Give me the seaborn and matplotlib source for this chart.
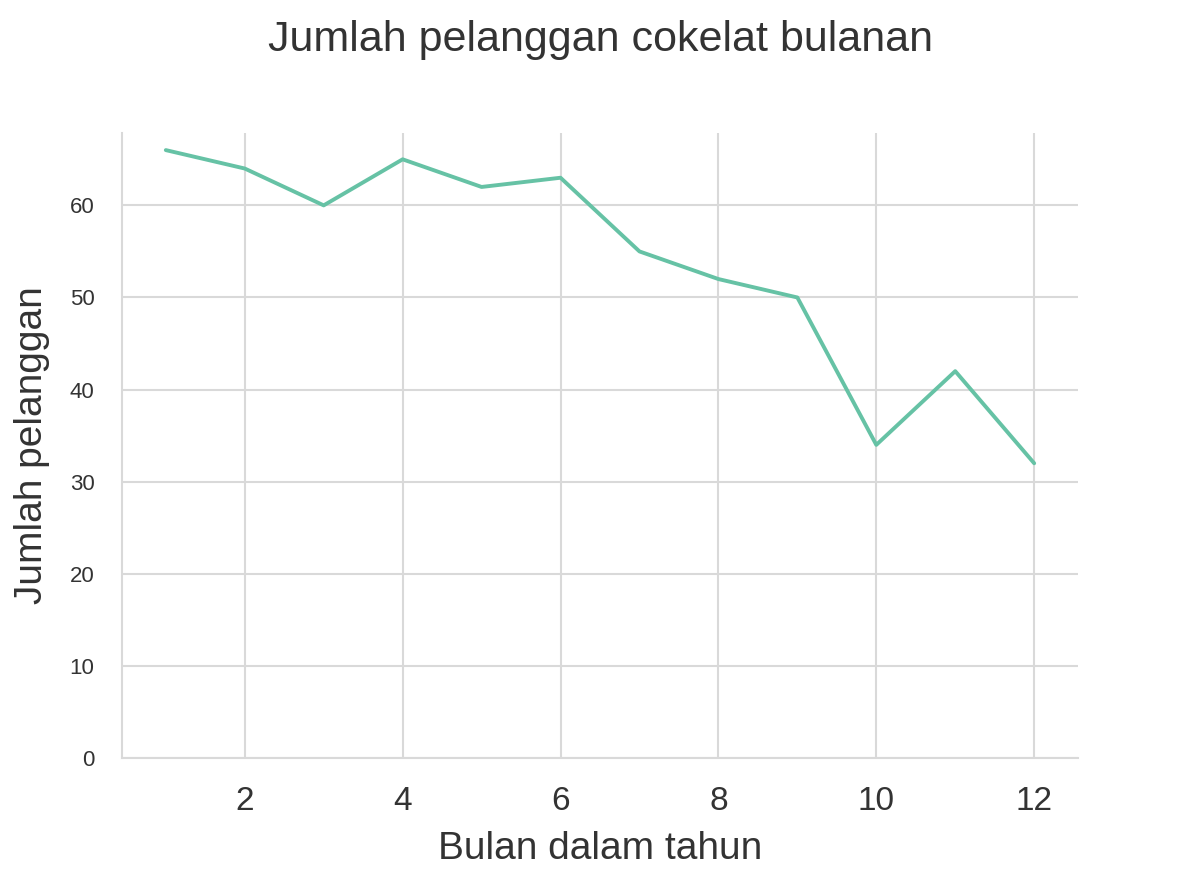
import matplotlib
matplotlib.use("Agg")
import matplotlib.pyplot as plt
import seaborn as sns
import pandas as pd

bulan = [1, 2, 3, 4, 5, 6, 7, 8, 9, 10, 11, 12]
pelanggan = [66, 64, 60, 65, 62, 63, 55, 52, 50, 34, 42, 32]

sns.set_theme(style="whitegrid")
plt.rcParams['font.family'] = ['Liberation Sans', 'DejaVu Sans']
df = pd.DataFrame({"bulan": bulan, "pelanggan": pelanggan})

fig = plt.figure(figsize=(12, 8.96), dpi=100)
ax = fig.add_axes([0.102, 0.154, 0.796, 0.698])
sns.lineplot(data=df, x="bulan", y="pelanggan", color="#66c2a5", linewidth=2.8, ax=ax)
ax.set_ylim(0, 67.9)
ax.set_xlim(0.45, 12.55)
ax.set_xticks([2, 4, 6, 8, 10, 12])
ax.tick_params(axis='x', labelsize=24, colors='#333333', pad=14)
ax.tick_params(axis='y', labelsize=16, colors='#333333', pad=14)
ax.grid(True, color='#d9d9d9', linewidth=1.5)
sns.despine(ax=ax)
for s in ['left', 'bottom']:
    ax.spines[s].set_color('#d9d9d9')
    ax.spines[s].set_linewidth(1.5)
ax.set_xlabel("Bulan dalam tahun", fontsize=28, color='#333333', labelpad=10)
ax.set_ylabel("Jumlah pelanggan", fontsize=28, color='#333333', labelpad=14)
fig.suptitle("Jumlah pelanggan cokelat bulanan", fontsize=31, color='#333333', y=0.978)
fig.savefig("out.png", dpi=100)
